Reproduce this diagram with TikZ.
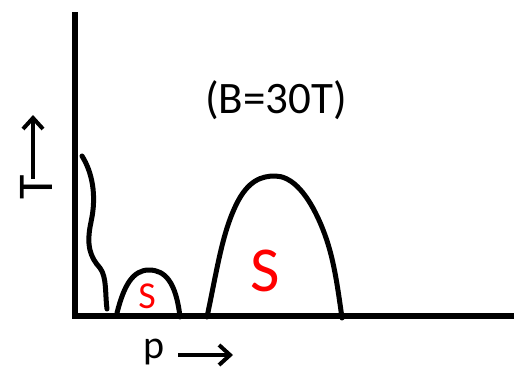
\documentclass[tikz,border=0pt]{standalone}
\usepackage{fontspec}
\setmainfont{Carlito}
\usetikzlibrary{arrows.meta}
\begin{document}
\begin{tikzpicture}[x=1pt,y=-1pt,
  axis/.style={line width=6pt},
  curve/.style={line width=5pt, line cap=round, line join=round},
  lab/.style={inner sep=0pt, font=\fontsize{45}{48}\selectfont},
  redlab/.style={inner sep=0pt, text=red},
  arr/.style={line width=4pt, -{Straight Barb[length=11pt,width=20pt,line width=4pt]}}]
\useasboundingbox (0,0) rectangle (514,372);
% axes
\coordinate (top) at (75,12);
\coordinate (orig) at (75,316);
\coordinate (right) at (514,316);
\draw[axis] (top) -- (75,319) (72,316) -- (right);
% title
\node[lab] (title) at (276,100) {(B=30T)};
% T label
\node[lab, rotate=90, font=\fontsize{50}{52}\selectfont] (tlab) at (36,187) {T};
\coordinate (ta0) at (33,179);
\coordinate (ta1) at (33,115);
\draw[arr] (ta0) -- (ta1);
% p label
\node[lab, font=\fontsize{40}{44}\selectfont, anchor=base] (plab) at (154,358) {p};
\coordinate (pa0) at (178,355);
\coordinate (pa1) at (233,355);
\draw[arr] (pa0) -- (pa1);
% wiggly line
\coordinate (w0) at (82,156);
\coordinate (w1) at (107,309);
\draw[curve] (w0) .. controls (92,172) and (97,195) .. (91,222)
  .. controls (86,245) and (90,257) .. (100,268)
  .. controls (107,277) and (105,295) .. (w1);
% small dome
\coordinate (s0) at (117,313);
\coordinate (s1) at (180,317);
\draw[curve] (s0) .. controls (124,285) and (133,270) .. (149,270)
  .. controls (165,270) and (176,282) .. (s1);
\node[redlab, font=\fontsize{38}{40}\selectfont] (S1) at (147,296) {S};
% big dome
\coordinate (b0) at (207,317);
\coordinate (b1) at (342,318);
\draw[curve] (b0) .. controls (217,270) and (222,234) .. (236,205)
  .. controls (248,180) and (262,176) .. (275,176)
  .. controls (290,176) and (305,190) .. (318,218)
  .. controls (332,248) and (336,275) .. (b1);
\node[redlab, font=\fontsize{64}{66}\selectfont] (S2) at (265,271) {S};
\end{tikzpicture}
\end{document}
